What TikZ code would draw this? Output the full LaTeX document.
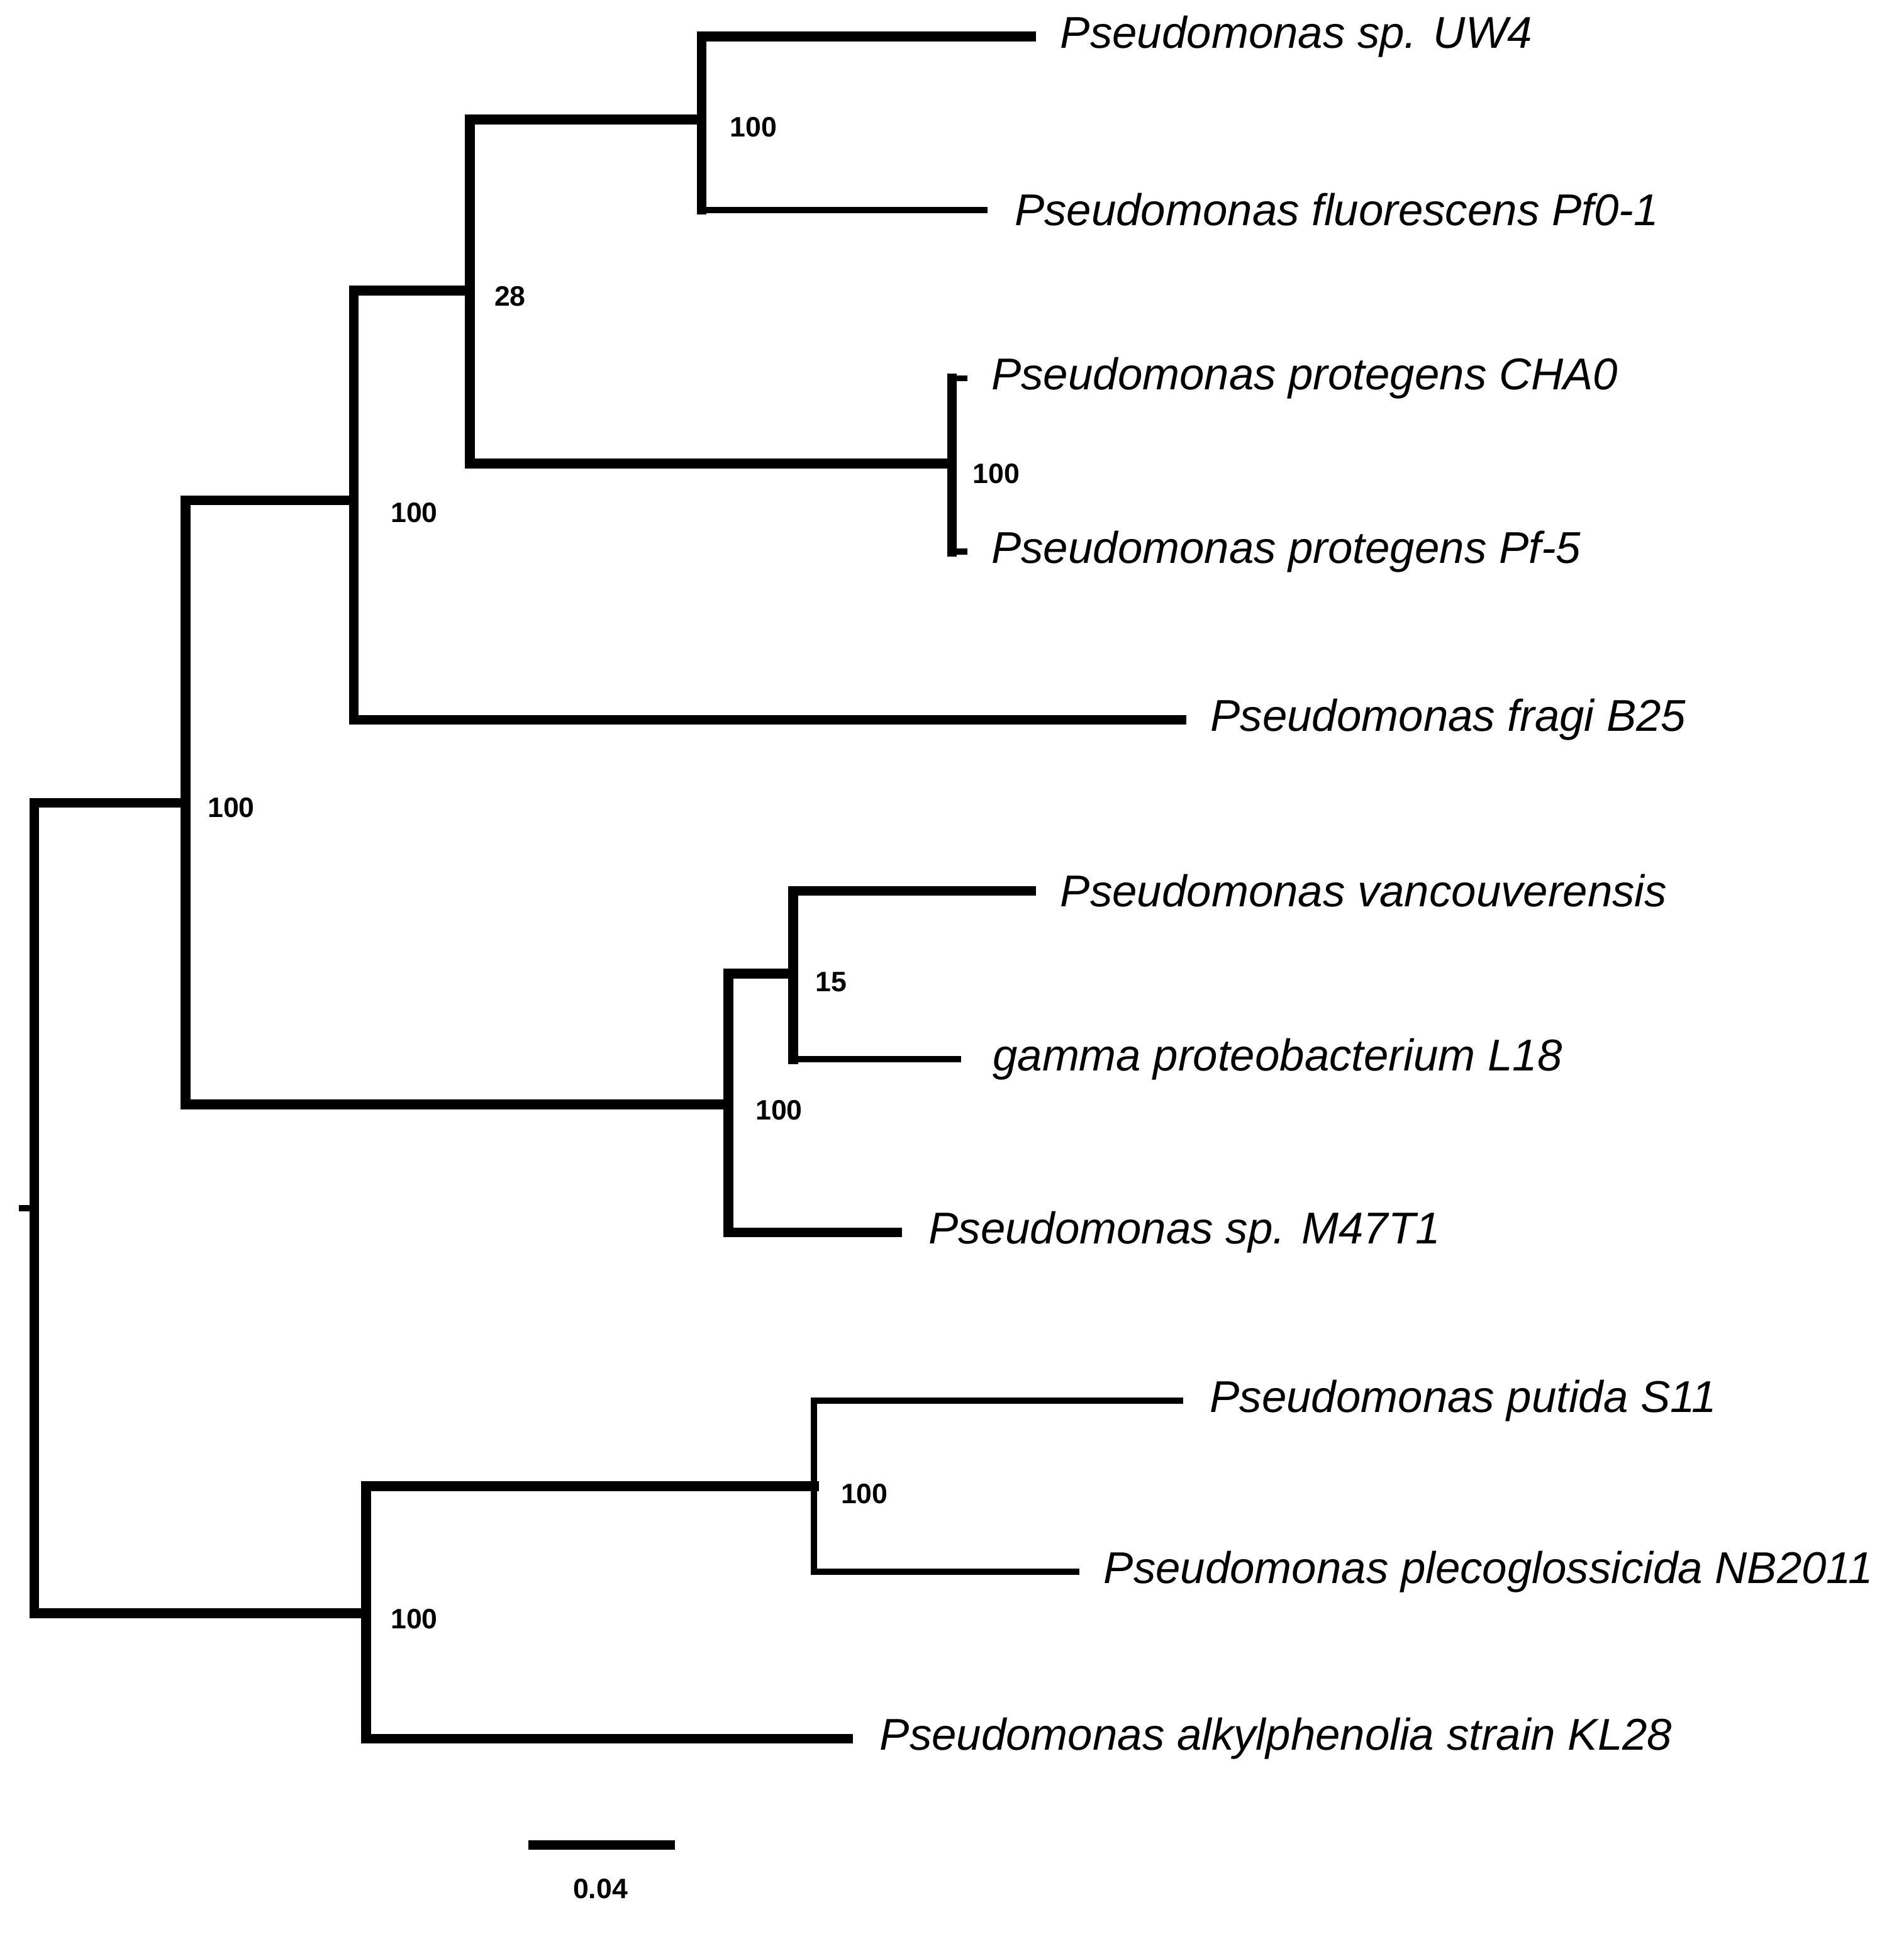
\documentclass[tikz,border=0pt]{standalone}
\usepackage{fontspec}
\setmainfont{Liberation Sans}
\begin{document}
\begin{tikzpicture}[x=1pt,y=-1pt,
 br/.style={line width=8pt,line cap=rect},
 thin/.style={line width=5pt,line cap=rect},
 leaf/.style={anchor=west,font=\fontsize{36.5}{42}\selectfont\itshape,inner sep=0pt},
 boot/.style={anchor=west,font=\fontsize{23}{26}\selectfont\bfseries,inner sep=0pt}]
\useasboundingbox (0,0) rectangle (1560,1585);
% internal nodes
\coordinate (R) at (28,990);
\coordinate (A) at (152,658);
\coordinate (B) at (290,410);
\coordinate (C) at (385,238);
\coordinate (D) at (575,98);
\coordinate (E) at (780,380);
\coordinate (F) at (597,905);
\coordinate (G) at (650,798);
\coordinate (H) at (300,1322);
\coordinate (I) at (667,1218);
% root tick
\draw[thin] (18,990) -- (R);
% root vertical
\draw[br] (28,658) -- (28,1322);
\draw[br] (28,658) -- (A);
\draw[br] (28,1322) -- (H);
% A
\draw[br] (152,410) -- (152,905);
\draw[br] (152,410) -- (B);
\draw[br] (152,905) -- (F);
% B
\draw[br] (290,238) -- (290,590);
\draw[br] (290,238) -- (C);
\draw[br] (290,590) -- (968,590) node[leaf,right=20pt] (l5) {Pseudomonas fragi B25};
% C
\draw[br] (385,98) -- (385,380);
\draw[br] (385,98) -- (D);
\draw[br] (385,380) -- (E);
% D
\draw[br] (575,30) -- (575,172);
\draw[br] (575,30) -- (845,30) node[leaf,right=20pt] (l1) {Pseudomonas sp. UW4};
\draw[thin] (575,172) -- (807,172) node[leaf,right=22pt] (l2) {Pseudomonas fluorescens Pf0-1};
% E
\draw[br] (780,310) -- (780,452);
\draw[thin] (780,310) -- (790,310) node[leaf,right=20pt] (l3) {Pseudomonas protegens CHA0};
\draw[thin] (780,452) -- (790,452) node[leaf,right=20pt] (l4) {Pseudomonas protegens Pf-5};
% F
\draw[br] (597,798) -- (597,1010);
\draw[br] (597,798) -- (G);
\draw[br] (597,1010) -- (735,1010) node[leaf,right=22pt] (l8) {Pseudomonas sp. M47T1};
% G
\draw[br] (650,730) -- (650,868);
\draw[br] (650,730) -- (845,730) node[leaf,right=20pt] (l6) {Pseudomonas vancouverensis};
\draw[thin] (650,868) -- (785,868) node[leaf,right=26pt] (l7) {gamma proteobacterium L18};
% H
\draw[br] (300,1218) -- (300,1425);
\draw[br] (300,1218) -- (I);
\draw[br] (300,1425) -- (695,1425) node[leaf,right=22pt] (l11) {Pseudomonas alkylphenolia strain KL28};
% I
\draw[thin] (667,1148) -- (667,1288);
\draw[thin] (667,1148) -- (967,1148) node[leaf,right=22pt] (l9) {Pseudomonas putida S11};
\draw[thin] (667,1288) -- (882,1288) node[leaf,right=20pt] (l10) {Pseudomonas plecoglossicida NB2011};
% bootstrap labels
\node[boot] (bA) at (170,662) {100};
\node[boot] (bB) at (320,420) {100};
\node[boot] (bC) at (405,243) {28};
\node[boot] (bD) at (598,104) {100};
\node[boot] (bE) at (797,388) {100};
\node[boot] (bF) at (619,910) {100};
\node[boot] (bG) at (668,805) {15};
\node[boot] (bH) at (320,1327) {100};
\node[boot] (bI) at (689,1224) {100};
% scale bar
\coordinate (s1) at (433,1512);
\coordinate (s2) at (553,1512);
\draw[br,line cap=butt] (s1) -- (s2);
\node[boot,anchor=center] (sl) at (492,1548) {0.04};
\end{tikzpicture}
\end{document}
